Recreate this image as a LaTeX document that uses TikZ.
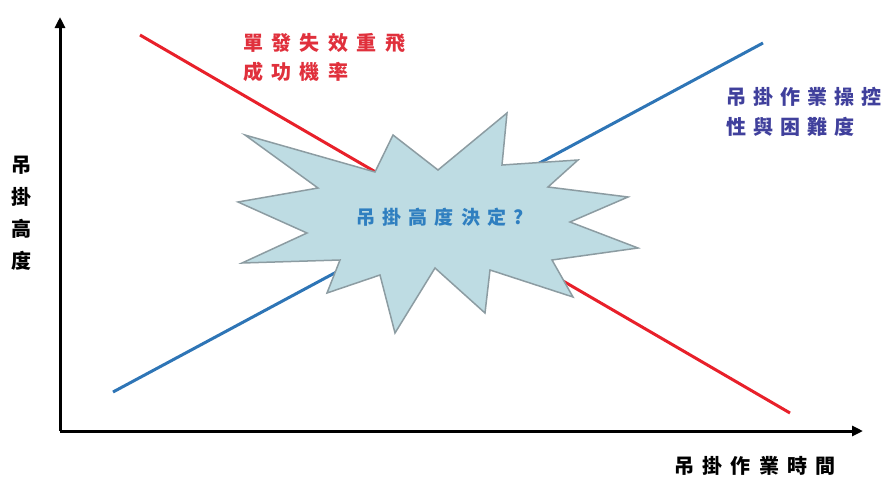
\documentclass[tikz,border=0pt]{standalone}
\usepackage{fontspec}
\usetikzlibrary{arrows.meta}
\newfontfamily\cjk[LetterSpace=35]{Noto Sans CJK TC}
\newfontfamily\cjkwide[LetterSpace=42]{Noto Sans CJK TC}
\newfontfamily\cjkstar[LetterSpace=38]{Noto Sans CJK TC}
\definecolor{linered}{HTML}{E8202A}
\definecolor{lineblue}{HTML}{2E75B6}
\definecolor{txtred}{HTML}{E0303C}
\definecolor{txtblue}{HTML}{40409C}
\definecolor{starfill}{HTML}{BEDCE3}
\definecolor{starline}{HTML}{8C9CA2}
\definecolor{startxt}{HTML}{2F7FC0}
\begin{document}
\begin{tikzpicture}[x=1pt,y=-1pt,
  axis/.style={line width=3pt,-{Triangle[length=11pt,width=10pt]}},
  trend/.style={line width=3pt},
  lbl/.style={inner sep=0pt,align=left}]
\useasboundingbox (0,0) rectangle (895,480);
% axes
\coordinate (O) at (60,431);
\coordinate (ytop) at (60,17);
\coordinate (xend) at (863,431);
\draw[axis] (O) -- (ytop);
\draw[axis] (O) -- (xend);
% trend lines
\coordinate (r1) at (140,35);
\coordinate (r2) at (790,413);
\coordinate (b1) at (113,392);
\coordinate (b2) at (763,43);
\draw[trend,linered] (r1) -- (r2);
\draw[trend,lineblue] (b1) -- (b2);
% star
\draw[fill=starfill,draw=starline,line width=1.5pt,line join=miter]
  (245,135) -- (375,172) -- (393,135) -- (438,170) -- (507,113) -- (502,165)
  -- (578,160) -- (548,187) -- (628,197) -- (570,222) -- (638,248) -- (552,260)
  -- (573,297) -- (490,270) -- (485,313) -- (435,268) -- (395,333) -- (380,275)
  -- (327,293) -- (340,260) -- (242,263) -- (307,233) -- (238,202) -- (318,188) -- cycle;
\node[inner sep=0pt,text=startxt,font=\cjkstar\bfseries\fontsize{19}{22}\selectfont] (q) at (440,217) {吊掛高度決定?};
% labels
\node[lbl,anchor=west,text=txtred,font=\cjkwide\bfseries\fontsize{20}{29}\selectfont] (redlbl) at (243,57) {單發失效重飛\\成功機率};
\node[lbl,anchor=west,text=txtblue,font=\cjk\bfseries\fontsize{20}{30}\selectfont] (bluelbl) at (726,112) {吊掛作業操控\\性與困難度};
\node[inner sep=0pt,align=center,text=black,font=\cjk\bfseries\fontsize{20}{32}\selectfont] (ylbl) at (22,213) {吊\\掛\\高\\度};
\node[inner sep=0pt,text=black,font=\cjkwide\bfseries\fontsize{20}{24}\selectfont] (xlbl) at (755,466) {吊掛作業時間};
\end{tikzpicture}
\end{document}
